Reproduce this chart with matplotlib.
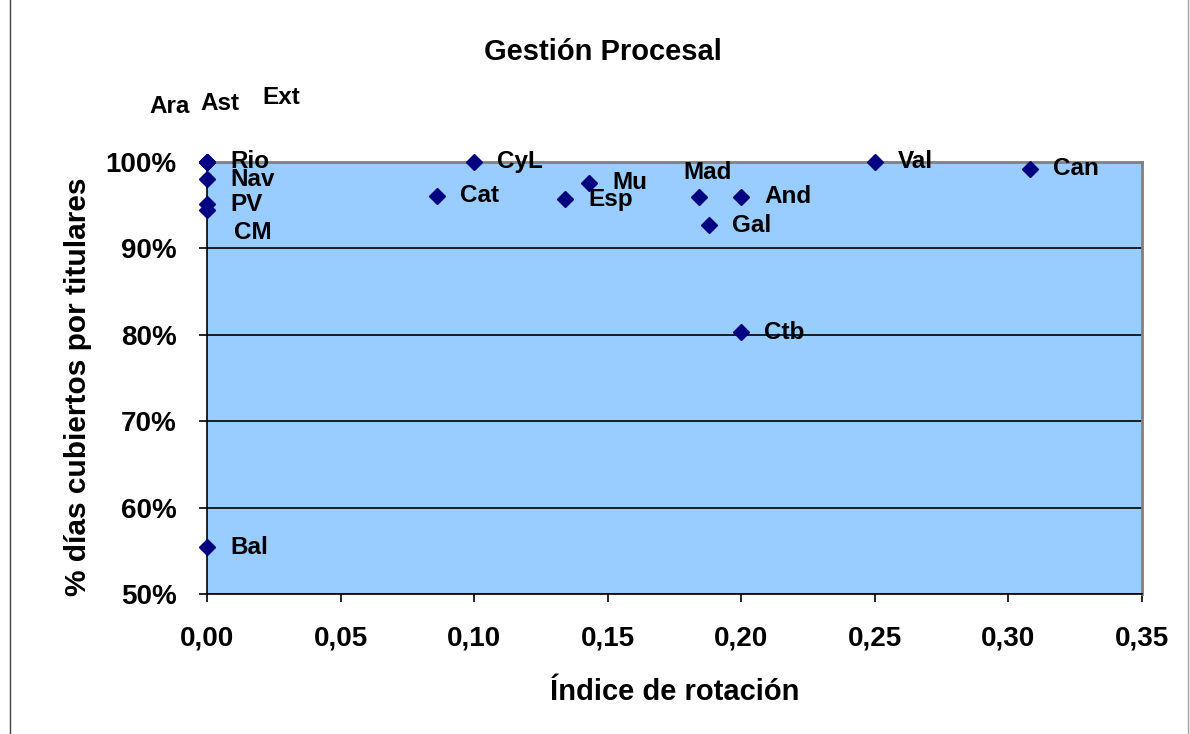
import matplotlib
matplotlib.use('Agg')
import matplotlib.pyplot as plt
from matplotlib.lines import Line2D
from matplotlib.ticker import FuncFormatter, MultipleLocator

# ------------------------------------------------------------------
# Data
# ------------------------------------------------------------------
REGIONS  = ['Rio', 'Nav', 'PV', 'CM', 'Bal', 'Ara', 'Ast', 'Ext',
            'Cat', 'CyL', 'Esp', 'Mu', 'Mad', 'And', 'Gal', 'Ctb',
            'Val', 'Can']
ROTATION = [0.000, 0.000, 0.000, 0.000, 0.000, 0.000, 0.000, 0.000,
            0.086, 0.100, 0.134, 0.143, 0.184, 0.200, 0.188, 0.200,
            0.250, 0.308]
COVERED  = [1.000, 0.980, 0.951, 0.945, 0.554, 1.000, 1.000, 1.000,
            0.961, 1.000, 0.957, 0.976, 0.960, 0.960, 0.927, 0.803,
            1.000, 0.992]

# label placement (offset in pixels, alignment) -- Excel labels were dragged
LABEL_POS = {
    'Ara': (-37, 55, 'center'),
    'Ast': (13, 58, 'center'),
    'Ext': (74, 64, 'center'),
    'CM':  (46, -23, 'center'),
    'Mad': (9, 24, 'center'),
}

TITLE  = 'Gestión Procesal'
XLABEL = 'Índice de rotación'
YLABEL = '% días cubiertos por titulares'

plt.rcParams['font.family'] = ['Liberation Sans', 'DejaVu Sans']
plt.rcParams['font.weight'] = 'bold'

fig = plt.figure(figsize=(11.9, 7.34), dpi=100)
ax = fig.add_axes([0.174, 0.1907, 0.7857, 0.5886])
ax.set_facecolor('#99CCFF')

ax.set_xlim(0, 0.35)
ax.set_ylim(0.5, 1.0)
ax.xaxis.set_major_locator(MultipleLocator(0.05))
ax.yaxis.set_major_locator(MultipleLocator(0.1))
ax.xaxis.set_major_formatter(FuncFormatter(lambda v, p: f'{v:.2f}'.replace('.', ',')))
ax.yaxis.set_major_formatter(FuncFormatter(lambda v, p: f'{v*100:.0f}%'))

ax.grid(axis='y', color='black', linewidth=1.2)
ax.set_axisbelow(True)

for side in ['top', 'right']:
    ax.spines[side].set_color('#808080')
    ax.spines[side].set_linewidth(2)
for side in ['left', 'bottom']:
    ax.spines[side].set_color('black')
    ax.spines[side].set_linewidth(1.2)

ax.tick_params(axis='both', direction='out', length=6, width=1.2,
               labelsize=20, colors='black')
ax.tick_params(axis='y', pad=16)
ax.tick_params(axis='x', pad=17)

ax.plot(ROTATION, COVERED, linestyle='none', marker='D', markersize=8,
        color='#000080', clip_on=False, zorder=5)

for name, x, y in zip(REGIONS, ROTATION, COVERED):
    dx, dy, ha = LABEL_POS.get(name, (23, 0, 'left'))
    ax.annotate(name, (x, y), xytext=(dx, dy), textcoords='offset pixels',
                ha=ha, va='center', fontsize=17.5, fontweight='bold',
                annotation_clip=False, zorder=6)

ax.set_xlabel(XLABEL, fontsize=21, fontweight='bold', labelpad=19)
ax.set_ylabel(YLABEL, fontsize=21.5, fontweight='bold')
ax.yaxis.set_label_coords(-0.123, 0.479)
fig.text(603 / 1190, 1 - 52 / 734, TITLE, ha='center', va='center',
         fontsize=21, fontweight='bold')

# thin frame lines at the left and right edges of the image
fig.add_artist(Line2D([10 / 1190, 10 / 1190], [0, 1], color='#404040', linewidth=1))
fig.add_artist(Line2D([1188 / 1190, 1188 / 1190], [0, 1], color='#a0a0a0', linewidth=1))

fig.savefig('out.png', dpi=100)
